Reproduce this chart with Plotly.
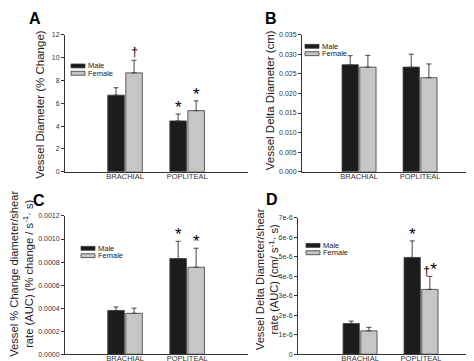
import plotly.graph_objects as go

W, H = 474, 361

categories = ["BRACHIAL", "POPLITEAL"]
groups = ["Male", "Female"]

# Panel A: Vessel Diameter (% Change)
a_male = [6.7, 4.45]
a_male_err = [0.65, 0.6]
a_female = [8.65, 5.35]
a_female_err = [1.1, 0.85]

# Panel B: Vessel Delta Diameter (cm)
b_male = [0.0273, 0.0267]
b_male_err = [0.0023, 0.0033]
b_female = [0.0267, 0.0240]
b_female_err = [0.0030, 0.0035]

# Panel C: % change diameter / shear rate AUC
c_male = [0.00038, 0.00083]
c_male_err = [0.00003, 0.00015]
c_female = [0.000355, 0.000755]
c_female_err = [0.000045, 0.000165]

# Panel D: delta diameter / shear rate AUC
d_male = [1.58e-6, 4.97e-6]
d_male_err = [0.12e-6, 0.85e-6]
d_female = [1.2e-6, 3.33e-6]
d_female_err = [0.18e-6, 0.67e-6]

d_tickvals = [0, 1e-6, 2e-6, 3e-6, 4e-6, 5e-6, 6e-6, 7e-6]
d_ticktext = ["0", "1e-6", "2e-6", "3e-6", "4e-6", "5e-6", "6e-6", "7e-6"]

titles = [
    "Vessel Diameter (% Change)",
    "Vessel Delta Diameter (cm)",
    "Vessel % Change diameter/shear<br>rate (AUC) (% change / s<sup>-1</sup>· s)",
    "Vessel Delta Diameter/shear<br>rate (AUC) (cm/ s<sup>-1</sup>· s)",
]

MALE_C = "#1c1c1c"
FEMALE_C = "#c6c6c6"
EDGE = "#3a3a3a"
AXC = "#333333"
TXT = "#222222"
FONT = "Arial, Liberation Sans, sans-serif"
BARGAP = 0.42
BARGROUPGAP = 0.08


def fx(px):
    return px / W


def fy(py):
    return 1 - py / H


fig = go.Figure()

panels = [
    ("x", "y", a_male, a_male_err, a_female, a_female_err),
    ("x2", "y2", b_male, b_male_err, b_female, b_female_err),
    ("x3", "y3", c_male, c_male_err, c_female, c_female_err),
    ("x4", "y4", d_male, d_male_err, d_female, d_female_err),
]

for xa, ya, m, me, f, fe in panels:
    for name, vals, errs, col in [("Male", m, me, MALE_C), ("Female", f, fe, FEMALE_C)]:
        fig.add_trace(go.Bar(
            x=categories, y=vals, name=name, xaxis=xa, yaxis=ya,
            marker=dict(color=col, line=dict(color=EDGE, width=0.8)),
            error_y=dict(type="data", symmetric=False, array=errs,
                         arrayminus=[0] * len(errs), color="#444444",
                         thickness=1, width=2.5),
            showlegend=False,
        ))

tickfont = dict(family=FONT, size=7, color=AXC)
catfont = dict(family=FONT, size=7.5, color=AXC)


def xaxis(dom, rng, anchor):
    return dict(domain=[fx(dom[0]), fx(dom[1])], range=rng, anchor=anchor,
                type="category", showline=True, linecolor=AXC, linewidth=1,
                ticks="", showgrid=False, zeroline=False, tickfont=catfont,
                ticklabelstandoff=-3, fixedrange=True)


def yaxis(dom, rng, anchor, **kw):
    d = dict(domain=[fy(dom[1]), fy(dom[0])], range=rng, anchor=anchor,
             showline=True, linecolor=AXC, linewidth=1, ticks="outside",
             ticklen=3, tickcolor=AXC, showgrid=False, zeroline=False,
             tickfont=tickfont)
    d.update(kw)
    return d


fig.update_layout(
    width=W, height=H,
    margin=dict(l=0, r=0, t=0, b=0),
    paper_bgcolor="white", plot_bgcolor="white",
    barmode="group", bargap=BARGAP, bargroupgap=BARGROUPGAP,
    showlegend=False,
    font=dict(family=FONT),
    xaxis=xaxis((57, 240), [-0.967, 1.98], "y"),
    yaxis=yaxis((23, 163), [0, 12], "x", tickvals=[0, 2, 4, 6, 8, 10, 12]),
    xaxis2=xaxis((294, 474), [-0.935, 2.015], "y2"),
    yaxis2=yaxis((23, 163), [0, 0.035], "x2",
                 tickvals=[0, 0.005, 0.01, 0.015, 0.02, 0.025, 0.03, 0.035],
                 tickformat=".3f"),
    xaxis3=xaxis((57, 240), [-0.967, 1.98], "y3"),
    yaxis3=yaxis((208, 349), [0, 0.0012], "x3",
                 tickvals=[0, 0.0002, 0.0004, 0.0006, 0.0008, 0.001, 0.0012],
                 tickformat=".4f"),
    xaxis4=xaxis((290, 474), [-1.018, 2.0], "y4"),
    yaxis4=yaxis((210, 349), [0, 7e-6], "x4",
                 tickvals=d_tickvals, ticktext=d_ticktext),
)

annotations = []
shapes = []

# y-axis titles (rotated text)
for text, px, py, size in [(titles[0], 32, 94.5, 11.5), (titles[1], 262, 90, 11.5),
                           (titles[2], 14, 267, 11.2), (titles[3], 259.5, 273, 11.2)]:
    annotations.append(dict(text=text, x=fx(px), y=fy(py), xref="paper", yref="paper",
                            showarrow=False, textangle=-90, xanchor="center",
                            yanchor="middle",
                            font=dict(family=FONT, size=size, color=TXT)))

# panel letters
for letter, px, py in [("A", 27, 7), ("B", 263, 7), ("C", 31, 192), ("D", 264, 191)]:
    annotations.append(dict(text="<b>%s</b>" % letter, x=fx(px), y=fy(py),
                            xref="paper", yref="paper", showarrow=False,
                            font=dict(family=FONT, size=16, color="black"),
                            xanchor="center", yanchor="middle"))

# custom legends (swatch + label) for each panel
legend_pos = [(63, 55), (297, 35), (73, 241), (298, 238)]
for lx, ly in legend_pos:
    for i, (name, col) in enumerate([("Male", MALE_C), ("Female", FEMALE_C)]):
        yy = ly + i * 7.5
        shapes.append(dict(type="rect", xref="paper", yref="paper",
                           x0=fx(lx), x1=fx(lx + 14), y0=fy(yy + 2), y1=fy(yy - 2),
                           fillcolor=col, line=dict(color=EDGE, width=0.8)))
        annotations.append(dict(text=name, x=fx(lx + 15), y=fy(yy),
                                xref="paper", yref="paper", showarrow=False,
                                xanchor="left", yanchor="middle",
                                font=dict(family=FONT, size=7.5, color=TXT)))

off = (1 - BARGAP) / 4


def mark(xa, ya, idx, sex, top, text, size=17, shift=-5):
    x = idx - off if sex == 0 else idx + off
    annotations.append(dict(text=text, x=x, y=top, xref=xa, yref=ya,
                            showarrow=False, yanchor="bottom", xanchor="center",
                            yshift=shift,
                            font=dict(family=FONT, size=size, color="black")))


mark("x", "y", 0, 1, a_female[0] + a_female_err[0], "†", size=13, shift=-1)
mark("x", "y", 1, 0, a_male[1] + a_male_err[1], "*")
mark("x", "y", 1, 1, a_female[1] + a_female_err[1], "*")
mark("x3", "y3", 1, 0, c_male[1] + c_male_err[1], "*")
mark("x3", "y3", 1, 1, c_female[1] + c_female_err[1], "*")
mark("x4", "y4", 1, 0, d_male[1] + d_male_err[1], "*")
mark("x4", "y4", 1, 1, d_female[1] + d_female_err[1],
     "<span style='font-size:13px'>†</span>*")

fig.update_layout(annotations=annotations, shapes=shapes)

fig.write_html("out.html")
